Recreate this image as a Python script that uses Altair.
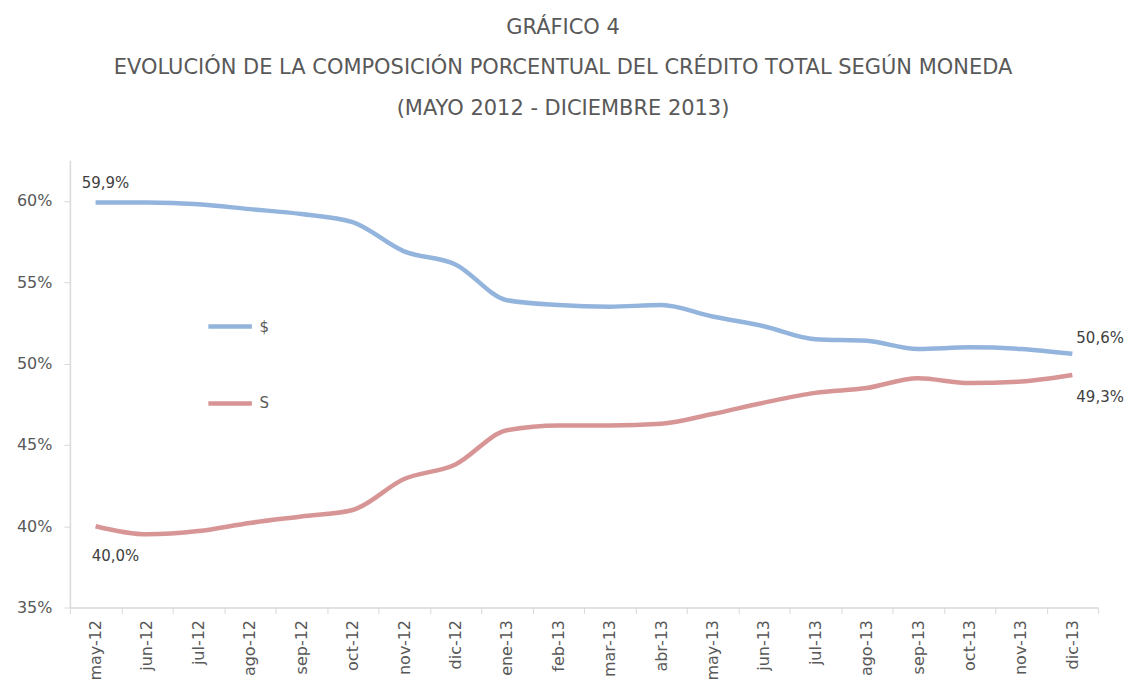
import altair as alt
import pandas as pd

months = ["may-12", "jun-12", "jul-12", "ago-12", "sep-12", "oct-12", "nov-12", "dic-12",
          "ene-13", "feb-13", "mar-13", "abr-13", "may-13", "jun-13", "jul-13", "ago-13",
          "sep-13", "oct-13", "nov-13", "dic-13"]
serie_azul = [59.9, 59.9, 59.8, 59.5, 59.2, 58.7, 56.9, 56.1, 53.9, 53.6,
              53.5, 53.6, 52.9, 52.3, 51.5, 51.4, 50.9, 51.0, 50.9, 50.6]
serie_roja = [40.0, 39.5, 39.7, 40.2, 40.6, 41.0, 42.9, 43.8, 45.9, 46.2,
              46.2, 46.3, 46.9, 47.6, 48.2, 48.5, 49.1, 48.8, 48.9, 49.3]
nombres = ["$", "S"]
y_ticks = [35, 40, 45, 50, 55, 60]
titulo = ["GRÁFICO 4",
          "EVOLUCIÓN DE LA COMPOSICIÓN PORCENTUAL DEL CRÉDITO TOTAL SEGÚN MONEDA",
          "(MAYO 2012 - DICIEMBRE 2013)"]

rows = []
for i, m in enumerate(months):
    rows.append({"mes": m, "serie": nombres[0], "valor": serie_azul[i], "idx": i})
    rows.append({"mes": m, "serie": nombres[1], "valor": serie_roja[i], "idx": i})
df = pd.DataFrame(rows)
df["etiqueta"] = df["valor"].map(lambda v: f"{v:.1f}%".replace(".", ","))

FONT = "DejaVu Sans"
GRAY = "#595959"
colors = ["#8DB0DA", "#D68F8F"]

x_enc = alt.X("mes:N", sort=months,
              scale=alt.Scale(paddingInner=0, paddingOuter=0),
              axis=alt.Axis(title=None, labelAngle=270, labelAlign="right", labelBaseline="middle",
                            labelFont=FONT, labelFontSize=16, labelColor=GRAY, labelPadding=6,
                            tickBand="extent", tickSize=6, tickColor="#d9d9d9",
                            domainColor="#d9d9d9", domainWidth=1.5, grid=False))
y_enc = alt.Y("valor:Q", scale=alt.Scale(domain=[35, 62.5], nice=False, zero=False),
              axis=alt.Axis(title=None, values=y_ticks, labelExpr="datum.value + '%'",
                            labelFont=FONT, labelFontSize=16, labelColor=GRAY, labelPadding=12,
                            tickSize=6, tickColor="#d9d9d9", domainColor="#d9d9d9",
                            domainWidth=1.5, grid=False))

lines = alt.Chart(df).mark_line(interpolate="monotone", strokeWidth=4.5, opacity=0.95).encode(
    x=x_enc, y=y_enc,
    color=alt.Color("serie:N", scale=alt.Scale(domain=nombres, range=colors),
                    legend=alt.Legend(title=None, orient="none", legendX=136, legendY=142,
                                      symbolType="stroke", symbolSize=1900, symbolStrokeWidth=4.5,
                                      rowPadding=43, labelFont=FONT, labelFontSize=15,
                                      labelColor=GRAY, labelOffset=5))
)

def lab(serie, idx, dx, dy, align):
    return alt.Chart(df).transform_filter(
        (alt.datum.serie == serie) & (alt.datum.idx == idx)
    ).mark_text(font=FONT, fontSize=15, color="#404040", dx=dx, dy=dy, align=align).encode(
        x=alt.X("mes:N", sort=months), y="valor:Q", text="etiqueta:N")

labels = [
    lab(nombres[0], 0, 10, -20, "center"),
    lab(nombres[1], 0, 20, 30, "center"),
    lab(nombres[0], 19, 4, -16, "left"),
    lab(nombres[1], 19, 4, 22, "left"),
]

chart = alt.layer(lines, *labels).properties(
    width=1030, height=448,
    autosize=alt.AutoSizeParams(type="none"),
    padding={"left": 62, "top": 152, "right": 30, "bottom": 72},
    title=alt.TitleParams(text=titulo, anchor="middle", font=FONT, fontSize=21,
                          fontWeight="normal", color=GRAY, lineHeight=41, offset=41, dx=-21),
).configure(background="white").configure_view(stroke=None)

chart.save("out.html", embed_options={"renderer": "svg", "actions": False})
